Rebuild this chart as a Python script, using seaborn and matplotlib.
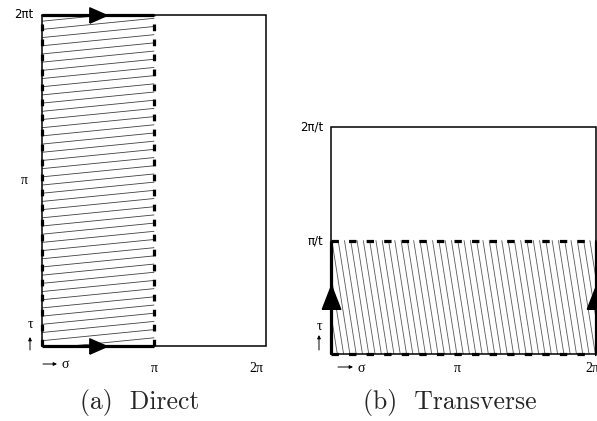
import numpy as np
import pandas as pd
import matplotlib
matplotlib.use("Agg")
import matplotlib.pyplot as plt
from matplotlib.transforms import offset_copy
import seaborn as sns

# Worldsheet coordinates, measured in units of pi
sigma_ticks = [1, 2]
sigma_labels = ["π", "2π"]
direct_tau_ticks = [1, 2]
direct_tau_labels = ["π", "2πt"]
transverse_tau_ticks = [1, 2]
transverse_tau_labels = ["π/t", "2π/t"]
direct_strip_sigma = (0, 1)
direct_strip_tau = (0, 2)
transverse_strip_sigma = (0, 2)
transverse_strip_tau = (0, 1)
domain_sigma = (0, 2)
domain_tau = (0, 2)
captions = ["(a)  Direct", "(b)  Transverse"]

sns.set_theme(style="white")
SERIF = ["Liberation Serif", "DejaVu Serif"]
SANS = ["DejaVu Sans"]

fig = plt.figure(figsize=(5.97, 4.21), dpi=100)
W, H = 597, 421
ax_d = fig.add_axes([42 / W, 1 - 346 / H, 224 / W, 331 / H])
ax_t = fig.add_axes([331 / W, 1 - 354 / H, 265 / W, 227 / H])


def shallow_hatch(xr, yr, spacing, rise):
    """Lines rising gently to the right, clipped to the box xr x yr."""
    (x0, x1), (y0, y1) = xr, yr
    rows = []
    k = rise / (x1 - x0)
    for i, c in enumerate(np.arange(y0 - rise, y1, spacing)):
        xa = max(x0, x0 + (y0 - c) / k)
        xb = min(x1, x0 + (y1 - c) / k)
        if xb > xa:
            rows += [(i, xa, c + k * (xa - x0)), (i, xb, c + k * (xb - x0))]
    return pd.DataFrame(rows, columns=["line", "x", "y"])


def steep_hatch(xr, yr, spacing, lean):
    """Near-vertical lines leaning left towards the top, clipped to the box."""
    (x0, x1), (y0, y1) = xr, yr
    rows = []
    m = lean / (y1 - y0)
    for i, c in enumerate(np.arange(x0, x1 + lean, spacing)):
        ya = max(y0, y0 + (c - x1) / m)
        yb = min(y1, y0 + (c - x0) / m)
        if yb > ya:
            rows += [(i, c - m * (ya - y0), ya), (i, c - m * (yb - y0), yb)]
    return pd.DataFrame(rows, columns=["line", "x", "y"])


def outline(ax):
    xs = [domain_sigma[0], domain_sigma[1], domain_sigma[1], domain_sigma[0], domain_sigma[0]]
    ys = [domain_tau[0], domain_tau[0], domain_tau[1], domain_tau[1], domain_tau[0]]
    ax.plot(xs, ys, color="black", lw=1.1, clip_on=False, solid_joinstyle="miter")


def label(ax, text, xy, off, ha="center", va="center", family=SERIF, size=10):
    ax.annotate(text, xy=xy, xycoords="data", xytext=off, textcoords="offset pixels",
                ha=ha, va=va, fontsize=size, family=family, color="black",
                annotation_clip=False)


def small_arrow(ax, start, end):
    tr = offset_copy(ax.transData, fig=fig, x=end[0], y=end[1], units="dots")
    ax.annotate("", xy=(0, 0), xycoords=tr,
                xytext=(start[0] - end[0], start[1] - end[1]), textcoords="offset pixels",
                arrowprops=dict(arrowstyle="-|>", lw=0.7, color="black",
                                mutation_scale=5, shrinkA=0, shrinkB=0),
                annotation_clip=False)


THICK = 2.3
right_head = [(-0.5, -0.44), (0.5, 0.0), (-0.5, 0.44), (-0.5, -0.44)]
up_head = [(-0.39, -0.5), (0.39, -0.5), (0.0, 0.5), (-0.39, -0.5)]

# ---- (a) Direct channel ----
hd = shallow_hatch(direct_strip_sigma, direct_strip_tau, spacing=0.0495, rise=0.067)
sns.lineplot(data=hd, x="x", y="y", units="line", estimator=None, sort=False,
             color="0.25", lw=0.6, ax=ax_d)
outline(ax_d)
for tau in direct_strip_tau:
    ax_d.plot(direct_strip_sigma, [tau, tau], color="black", lw=THICK,
              solid_capstyle="butt", clip_on=False)
    ax_d.plot(np.mean(direct_strip_sigma), tau, marker=right_head, ms=12.5,
              color="black", clip_on=False)
for sig in direct_strip_sigma:
    ax_d.plot([sig, sig], direct_strip_tau, color="black", lw=THICK,
              dashes=(2.1, 2.6), clip_on=False)

for t, lab in zip(direct_tau_ticks, direct_tau_labels):
    fam = SANS if "t" in lab else SERIF
    size = 8.5 if "t" in lab else 10
    label(ax_d, lab, (0, t), (-18, 0), family=fam, size=size)
for s, lab, dx in zip(sigma_ticks, sigma_labels, [0, -10]):
    label(ax_d, lab, (s, 0), (dx, -22))
label(ax_d, "τ", (0, 0), (-12, 22))
small_arrow(ax_d, (-12, -4), (-12, 9))
small_arrow(ax_d, (1, -18), (15, -18))
label(ax_d, "σ", (0, 0), (23, -19))

# ---- (b) Transverse channel ----
ht = steep_hatch(transverse_strip_sigma, transverse_strip_tau, spacing=0.0475, lean=0.136)
sns.lineplot(data=ht, x="x", y="y", units="line", estimator=None, sort=False,
             color="0.35", lw=0.6, ax=ax_t)
outline(ax_t)
for sig in transverse_strip_sigma:
    ax_t.plot([sig, sig], transverse_strip_tau, color="black", lw=THICK,
              solid_capstyle="butt", clip_on=False)
    ax_t.plot(sig, np.mean(transverse_strip_tau), marker=up_head, ms=17,
              color="black", clip_on=False)
for tau in transverse_strip_tau:
    ax_t.plot(transverse_strip_sigma, [tau, tau], color="black", lw=THICK,
              dashes=(2.3, 3.2), clip_on=False)

for t, lab in zip(transverse_tau_ticks, transverse_tau_labels):
    label(ax_t, lab, (0, t), (-8, 0), ha="right", family=SANS, size=8.5)
for s, lab, dx in zip(sigma_ticks, sigma_labels, [-6, -4]):
    label(ax_t, lab, (s, 0), (dx, -14))
label(ax_t, "τ", (0, 0), (-12, 28))
small_arrow(ax_t, (-12, 4), (-12, 19))
small_arrow(ax_t, (7, -13), (22, -13))
label(ax_t, "σ", (0, 0), (30, -14))

for ax in (ax_d, ax_t):
    ax.set_xlim(*domain_sigma)
    ax.set_ylim(*domain_tau)
    ax.set_axis_off()

fig.text(139.5 / W, 1 - 402 / H, captions[0], family="cmr10", fontsize=18.5,
         ha="center", va="center")
fig.text(450 / W, 1 - 402 / H, captions[1], family="cmr10", fontsize=18.5,
         ha="center", va="center")

fig.savefig("out.png", dpi=100, facecolor="white")
